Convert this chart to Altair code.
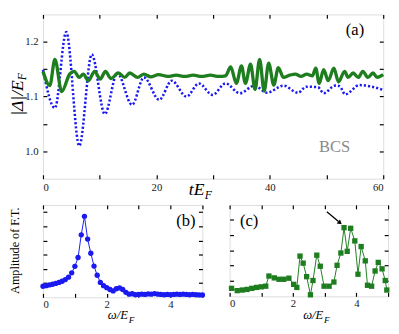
import altair as alt
import pandas as pd

FONT = "Liberation Serif"
BLUE = "#1a1af0"
GREEN = "#1e7d1e"

# ---- panel (a): |Delta|/E_F vs t E_F ----
blue_t = [0, 2.1, 4.1, 6.4, 8.6, 10.9, 13.1, 15.7, 17.8, 20.5, 22.7, 25.3, 27.5, 29.9,
          32.2, 34.7, 37.3, 39.5, 42.4, 45.0, 46.4, 48.5, 49.5, 51.5, 52.3, 53.3, 55.8, 58.0, 60.0]
blue_v = [1.149, 1.079, 1.218, 1.010, 1.177, 1.068, 1.143, 1.085, 1.135, 1.094, 1.129, 1.100,
          1.124, 1.103, 1.124, 1.106, 1.120, 1.107, 1.120, 1.107, 1.118, 1.117, 1.106, 1.120,
          1.119, 1.104, 1.121, 1.118, 1.112]

green_t = [0, 1.2, 2.1, 3.3, 4.7, 5.5, 6.4, 7.1, 8.0, 9.1, 10.1, 11.0, 12.0, 13.3, 14.4, 15.3,
           16.7, 17.8, 19.0, 20.4, 22.0, 23.5, 25.0, 26.5, 28.0, 29.5, 31.0, 32.2, 33.1, 34.1,
           35.0, 35.7, 36.6, 37.4, 38.2, 39.0, 39.8, 40.7, 41.5, 42.4, 43.5, 44.5, 45.5, 46.5,
           47.5, 48.1, 48.7, 49.5, 50.3, 51.3, 52.1, 53.2, 53.8, 54.7, 55.6, 56.4, 57.3, 58.2,
           58.9, 60.0]
green_v = [1.146, 1.120, 1.168, 1.109, 1.141, 1.146, 1.135, 1.141, 1.129, 1.146, 1.132, 1.146,
           1.133, 1.143, 1.135, 1.143, 1.135, 1.141, 1.136, 1.140, 1.137, 1.139, 1.137, 1.139,
           1.137, 1.139, 1.137, 1.138, 1.154, 1.124, 1.156, 1.124, 1.159, 1.113, 1.168, 1.110,
           1.161, 1.121, 1.153, 1.135, 1.139, 1.141, 1.137, 1.141, 1.138, 1.152, 1.124, 1.149,
           1.129, 1.152, 1.127, 1.146, 1.135, 1.143, 1.135, 1.146, 1.135, 1.143, 1.135, 1.140]

# ---- panel (b): F.T. amplitude of the blue curve ----
b_w = [round(0.1 * i, 1) for i in range(51)]
b_a = [0.78, 0.82, 0.87, 0.92, 0.98, 1.05, 1.13, 1.25, 1.42, 1.72, 2.18, 2.80, 4.40, 5.70,
       4.10, 3.10, 2.20, 1.55, 1.05, 0.82, 0.68, 0.55, 0.45, 0.60, 0.66, 0.55, 0.35, 0.22,
       0.25, 0.18, 0.20, 0.22, 0.20, 0.24, 0.22, 0.26, 0.22, 0.20, 0.18, 0.20, 0.18, 0.20,
       0.22, 0.20, 0.22, 0.20, 0.18, 0.20, 0.18, 0.17, 0.17]

# ---- panel (c): F.T. amplitude of the green curve ----
c_w = [0.06, 0.24, 0.40, 0.55, 0.70, 0.85, 1.00, 1.14, 1.24, 1.41, 1.56, 1.71, 1.87, 2.02,
       2.12, 2.22, 2.32, 2.43, 2.55, 2.63, 2.75, 2.86, 2.98, 3.14, 3.29, 3.39, 3.51, 3.61,
       3.71, 3.82, 3.95, 4.05, 4.15, 4.28, 4.35, 4.48, 4.59, 4.69, 4.81, 4.91, 4.96]
c_a = [0.52, 0.37, 0.41, 0.45, 0.52, 0.58, 0.62, 0.66, 1.32, 1.20, 1.11, 1.11, 1.18, 0.78,
       0.58, 2.62, 2.16, 1.28, 0.10, 1.03, 2.68, 1.96, 0.66, 0.66, 0.93, 2.02, 2.82, 4.47,
       2.93, 4.43, 3.61, 1.44, 3.24, 2.31, 0.72, 0.66, 1.65, 2.21, 1.79, 1.03, 0.41]

df_blue = pd.DataFrame({"t": blue_t, "v": blue_v})
df_green = pd.DataFrame({"t": green_t, "v": green_v})
df_b = pd.DataFrame({"w": b_w, "a": b_a})
df_c = pd.DataFrame({"w": c_w, "a": c_a})

W_A, H_A = 350, 169
W_B, H_B = 164, 95
W_C, H_C = 163, 94


def tick_axis(orient, values):
    return alt.Axis(orient=orient, values=values, labels=False, domain=False, grid=False,
                    ticks=True, tickSize=4, tickWidth=1.2, tickColor="black", offset=-4,
                    title=None)


def label_axis(orient, values, fmt, pad):
    return alt.Axis(orient=orient, values=values, format=fmt, labels=True, ticks=False,
                    domain=False, grid=False, labelPadding=pad, title=None, labelFont=FONT,
                    labelFontSize=11, labelColor="#222222")


def txt(s, x, y, size, color="black", style="normal", angle=0, align="center"):
    return alt.Chart(pd.DataFrame({"s": [s]})).mark_text(
        font=FONT, fontSize=size, color=color, fontStyle=style, angle=angle,
        align=align, baseline="middle").encode(
        x=alt.value(x), y=alt.value(y), text="s:N")


# ---------------- panel (a) ----------------
xa = alt.Scale(domain=[0, 60], nice=False, zero=False)
ya = alt.Scale(domain=[0.95, 1.25], nice=False, zero=False)

blue_layer = alt.Chart(df_blue).mark_line(
    color=BLUE, strokeWidth=2.6, strokeDash=[2.2, 2.1], interpolate="monotone").encode(
    x=alt.X("t:Q", scale=xa, axis=label_axis("bottom", [0, 20, 40, 60], "d", 3)),
    y=alt.Y("v:Q", scale=ya, axis=label_axis("left", [1.0, 1.1, 1.2], ".1f", 5)))
green_layer = alt.Chart(df_green).mark_line(
    color=GREEN, strokeWidth=3.4, interpolate="monotone").encode(
    x=alt.X("t:Q", scale=xa, axis=tick_axis("bottom", [0, 10, 20, 30, 40, 50, 60])),
    y=alt.Y("v:Q", scale=ya, axis=tick_axis("left", [1.0, 1.05, 1.1, 1.15, 1.2])))
frame_a = alt.Chart(df_green).mark_line(opacity=0).encode(
    x=alt.X("t:Q", scale=xa, axis=tick_axis("top", [0, 10, 20, 30, 40, 50, 60])),
    y=alt.Y("v:Q", scale=ya, axis=tick_axis("right", [1.0, 1.05, 1.1, 1.15, 1.2])))

panel_a = alt.layer(
    blue_layer, green_layer, frame_a,
    txt("|Δ|/E", -26, 86, 18, style="italic", angle=270),
    txt("F", -21, 64, 12, style="italic", angle=270),
    txt("tE", 158, H_A + 12, 18, style="italic"),
    txt("F", 170, H_A + 17, 12, style="italic"),
    txt("(a)", 321, 16, 17),
    txt("BCS", 300, 137, 17, color="#8a8a8a"),
).resolve_axis(x="independent", y="independent").properties(width=W_A, height=H_A)

# ---------------- panel (b) ----------------
xb = alt.Scale(domain=[0, 5], nice=False, zero=False)
yb = alt.Scale(domain=[0, 6.5], nice=False, zero=False)

b_line = alt.Chart(df_b).mark_line(color=BLUE, strokeWidth=1).encode(
    x=alt.X("w:Q", scale=xb, axis=label_axis("bottom", [0, 2, 4], "d", 1)),
    y=alt.Y("a:Q", scale=yb, axis=None))
b_pts = alt.Chart(df_b).mark_point(filled=True, color=BLUE, size=30, opacity=1).encode(
    x=alt.X("w:Q", scale=xb, axis=tick_axis("bottom", [0, 1, 2, 3, 4, 5])),
    y=alt.Y("a:Q", scale=yb, axis=tick_axis("left", [1, 2, 3, 4, 5, 6])))
frame_b = alt.Chart(df_b).mark_line(opacity=0).encode(
    x=alt.X("w:Q", scale=xb, axis=tick_axis("top", [0, 1, 2, 3, 4, 5])),
    y=alt.Y("a:Q", scale=yb, axis=tick_axis("right", [1, 2, 3, 4, 5, 6])))

panel_b = alt.layer(
    b_line, b_pts, frame_b,
    txt("Amplitude of F.T.", -29, 47, 12.5, angle=270),
    txt("(b)", 147, 17, 17),
    txt("ω/E", 77, 113, 13, style="italic"),
    txt("F", 91, 118, 9.5, style="italic"),
).resolve_axis(x="independent", y="independent").properties(width=W_B, height=H_B)

# ---------------- panel (c) ----------------
xc = alt.Scale(domain=[0, 5], nice=False, zero=False)
yc = alt.Scale(domain=[0, 5.95], nice=False, zero=False)

c_line = alt.Chart(df_c).mark_line(color=GREEN, strokeWidth=1).encode(
    x=alt.X("w:Q", scale=xc, axis=label_axis("bottom", [0, 2, 4], "d", 1)),
    y=alt.Y("a:Q", scale=yc, axis=None))
c_pts = alt.Chart(df_c).mark_point(filled=True, shape="square", color=GREEN, size=30,
                                   opacity=1).encode(
    x=alt.X("w:Q", scale=xc, axis=tick_axis("bottom", [0, 1, 2, 3, 4, 5])),
    y=alt.Y("a:Q", scale=yc, axis=tick_axis("left", [1, 2, 3, 4, 5])))
frame_c = alt.Chart(df_c).mark_line(opacity=0).encode(
    x=alt.X("w:Q", scale=xc, axis=tick_axis("top", [0, 1, 2, 3, 4, 5])),
    y=alt.Y("a:Q", scale=yc, axis=tick_axis("right", [1, 2, 3, 4, 5])))

arrow_df = pd.DataFrame({"k": [0]})
arrow_line = alt.Chart(arrow_df).mark_rule(color="black", strokeWidth=1.3).encode(
    x=alt.value(100), y=alt.value(7), x2=alt.value(112), y2=alt.value(17))
arrow_head = alt.Chart(arrow_df).mark_point(
    shape="triangle", filled=True, color="black", size=28, angle=130, opacity=1).encode(
    x=alt.value(113), y=alt.value(18))

panel_c = alt.layer(
    c_line, c_pts, frame_c, arrow_line, arrow_head,
    txt("(c)", 20, 17, 17),
    txt("ω/E", 86, 113, 13, style="italic"),
    txt("F", 100, 118, 9.5, style="italic"),
).resolve_axis(x="independent", y="independent").properties(width=W_C, height=H_C)

chart = alt.vconcat(
    panel_a,
    alt.hconcat(panel_b, panel_c, spacing=22),
    spacing=1,
).properties(
    padding={"left": 0, "top": 0, "right": 0, "bottom": 0}
).configure_view(
    stroke="black", strokeWidth=1.8
).configure_axis(
    labelFont=FONT
).configure(background="white")

chart.save("out.html", embed_options={"renderer": "svg", "actions": False})
